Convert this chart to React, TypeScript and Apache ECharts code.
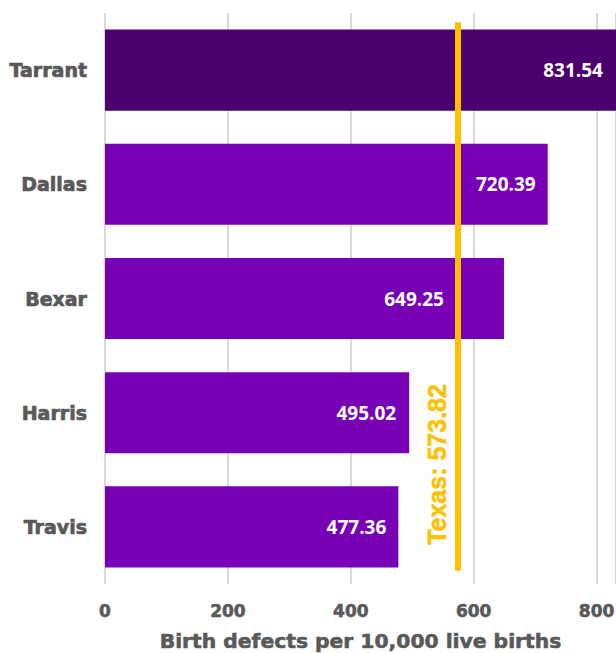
import React, { useEffect, useRef } from "react";
import * as echarts from "echarts";

const counties = ["Tarrant", "Dallas", "Bexar", "Harris", "Travis"];
const rates = [831.54, 720.39, 649.25, 495.02, 477.36];
const barColors = ["#4B006E", "#7800B5", "#7800B5", "#7800B5", "#7800B5"];
const labelDistances = [13, 12, 60, 13, 12];
const texasRate = 573.82;
const texasLabel = "Texas: 573.82";
const axisTitle = "Birth defects per 10,000 live births";

const grey = "#595959";

export default function App() {
  const ref = useRef<HTMLDivElement>(null);
  useEffect(() => {
    const chart = echarts.init(ref.current!, undefined, { renderer: "svg" });
    chart.setOption({
      animation: false,
      grid: { left: 105, right: 0, top: 13, bottom: 69, containLabel: false, outerBoundsMode: "none" },
      xAxis: {
        type: "value",
        min: 0,
        max: 831.54,
        interval: 200,
        axisLine: { show: false },
        axisTick: { show: false },
        splitLine: { lineStyle: { color: "#d9d9d9", width: 2 } },
        axisLabel: {
          showMaxLabel: false,
          color: grey,
          fontFamily: "DejaVu Sans",
          fontWeight: "bold",
          fontSize: 17,
          textBorderColor: grey,
          textBorderWidth: 0.6,
          margin: 18,
        },
        name: axisTitle,
        nameLocation: "middle",
        nameGap: 47,
        nameTextStyle: {
          color: grey,
          fontFamily: "DejaVu Sans",
          fontWeight: "bold",
          fontSize: 20.3,
          textBorderColor: grey,
          textBorderWidth: 0.6,
        },
      },
      yAxis: [
        {
          type: "category",
          data: counties,
          inverse: true,
          axisLine: { show: false },
          axisTick: { show: false },
          axisLabel: {
            color: grey,
            fontFamily: "DejaVu Sans",
            fontWeight: "bold",
            fontSize: 19,
            textBorderColor: grey,
            textBorderWidth: 0.7,
            margin: 18,
          },
        },
        { type: "value", min: 0, max: 1, show: false },
      ],
      series: [
        {
          type: "bar",
          data: rates.map((v, i) => ({
            value: v,
            itemStyle: { color: barColors[i] },
            label: { distance: labelDistances[i] },
          })),
          barCategoryGap: "29%",
          label: {
            show: true,
            position: "insideRight",
            color: "#ffffff",
            fontFamily: "Open Sans",
            fontWeight: "bold",
            fontSize: 19,
            formatter: (p: any) => p.value.toFixed(2),
          },
          z: 2,
        },
        {
          type: "line",
          xAxisIndex: 0,
          yAxisIndex: 1,
          data: [],
          z: 5,
          markLine: {
            silent: true,
            symbol: "none",
            lineStyle: { color: "#FFC000", width: 6, type: "solid" },
            label: {
              show: true,
              formatter: texasLabel,
              position: "insideStartTop",
              distance: [26, 8],
              color: "#FFC000",
              fontFamily: "Liberation Sans",
              fontWeight: "bold",
              fontSize: 25,
              textBorderColor: "#FFC000",
              textBorderWidth: 0.5,
            },
            data: [
              [
                { coord: [texasRate, 0.023] },
                { coord: [texasRate, 0.984] },
              ],
            ],
          },
        },
      ],
    });
    return () => chart.dispose();
  }, []);
  return <div ref={ref} style={{ width: 616, height: 653, position: "absolute", left: 0, top: 0 }} />;
}
